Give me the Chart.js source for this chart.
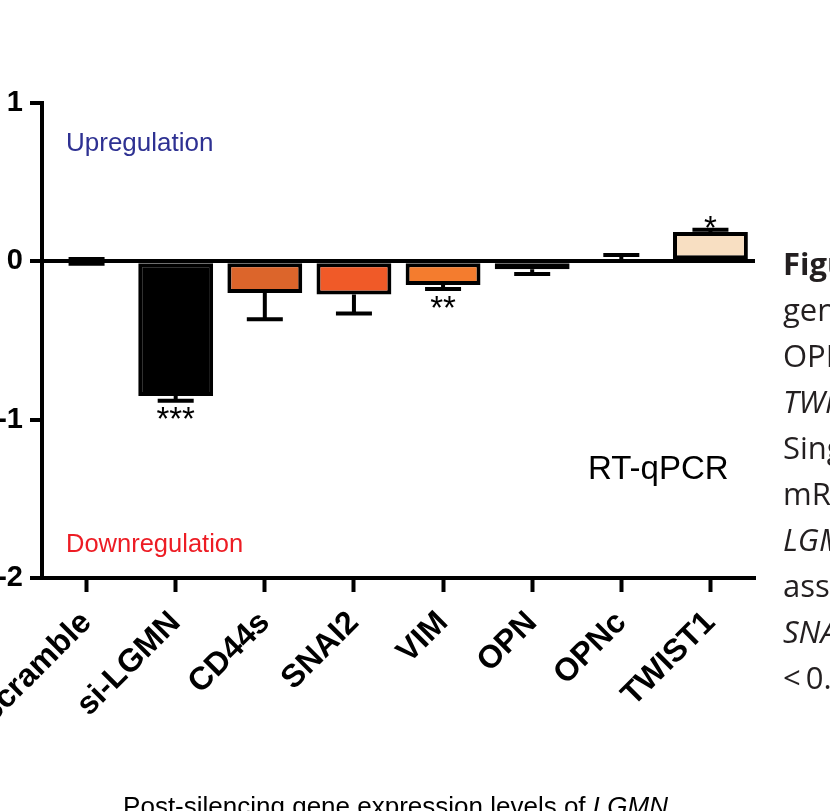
<!DOCTYPE html>
<html>
<head>
<meta charset="utf-8">
<title>Post-silencing gene expression levels of LGMN</title>
<script src="https://cdn.jsdelivr.net/npm/chart.js@4.4.0/dist/chart.umd.min.js"></script>
<style>
  html, body { margin: 0; padding: 0; background: #fff; overflow: hidden; }
  #wrap { position: relative; width: 830px; height: 811px; overflow: hidden; }
  #chart { position: absolute; left: 0; top: 0; }
  .caption {
    position: absolute; left: 783px; top: 240px;
    font-family: "Open Sans", sans-serif; font-size: 31px; line-height: 46px;
    color: #231f20; white-space: nowrap;
  }
</style>
</head>
<body>
<div id="wrap">
  <canvas id="chart" width="830" height="811"></canvas>
  <div class="caption">
    <div><b>Figure 5.</b></div>
    <div>gene</div>
    <div>OPN</div>
    <div><i>TWIST1</i></div>
    <div>Single</div>
    <div>mRNA</div>
    <div><i>LGMN</i></div>
    <div>assessed</div>
    <div><i>SNAI2</i></div>
    <div>&lt;&thinsp;0.05</div>
  </div>
</div>
<script>
// valeurs (log fold change)
const categories = ['Scramble', 'si-LGMN', 'CD44s', 'SNAI2', 'VIM', 'OPN', 'OPNc', 'TWIST1'];
const foldChange = [0, -0.85, -0.20, -0.21, -0.15, -0.05, 0.005, 0.185];
const errorSize = [0.015, 0.03, 0.165, 0.12, 0.025, 0.03, 0.035, 0.015];
const significance = ['', '***', '', '', '**', '', '', '*'];
const barColors = ['#000000', '#000000', '#DC652B', '#F05A28', '#F47C2E', '#F7A13A', '#FFFFFF', '#F8DFC2'];
const yTicks = [1, 0, -1, -2];

const FONT = 'Arial, "Liberation Sans", sans-serif';

// barres d'erreur + étoiles
const errorBarPlugin = {
    id: 'errorBars',
    afterDatasetsDraw(chart) {
        const ctx = chart.ctx;
        const x = chart.scales.x;
        const y = chart.scales.y;
        ctx.save();
        ctx.strokeStyle = '#000';
        ctx.lineWidth = 4;
        ctx.fillStyle = '#000';
        ctx.font = '33px ' + FONT;
        ctx.textAlign = 'center';
        ctx.textBaseline = 'top';
        foldChange.forEach((v, i) => {
            const cx = x.getPixelForValue(i);
            const dirs = v === 0 ? [1, -1] : [Math.sign(v)];
            let yEnd = 0;
            dirs.forEach(d => {
                const y0 = y.getPixelForValue(v);
                const y1 = y.getPixelForValue(v + d * errorSize[i]);
                ctx.beginPath();
                ctx.moveTo(cx, y0);
                ctx.lineTo(cx, y1);
                ctx.moveTo(cx - 18, y1);
                ctx.lineTo(cx + 18, y1);
                ctx.stroke();
                yEnd = y1;
            });
            if (significance[i]) {
                const ty = v < 0 ? yEnd + 4 : yEnd - 16;
                ctx.fillText(significance[i], cx, ty);
            }
        });
        ctx.restore();
    }
};

// textes dans le graphique
const labelsPlugin = {
    id: 'chartTexts',
    afterDraw(chart) {
        const ctx = chart.ctx;
        const area = chart.chartArea;
        ctx.save();
        ctx.textBaseline = 'alphabetic';
        ctx.textAlign = 'left';

        ctx.font = '26px ' + FONT;
        ctx.fillStyle = '#2E3192';
        ctx.fillText('Upregulation', 66, 151);

        ctx.font = '25.5px ' + FONT;
        ctx.fillStyle = '#ED1C24';
        ctx.fillText('Downregulation', 66, 552);

        ctx.font = '33px ' + FONT;
        ctx.fillStyle = '#000';
        ctx.fillText('RT-qPCR', 588, 479);

        // titre de l'axe x (LGMN en italique)
        const part1 = 'Post-silencing gene expression levels of ';
        const part2 = 'LGMN';
        ctx.font = '26px ' + FONT;
        const w1 = ctx.measureText(part1).width;
        ctx.font = 'italic 26px ' + FONT;
        const w2 = ctx.measureText(part2).width;
        const startX = (area.left + area.right) / 2 - (w1 + w2) / 2 - 3;
        ctx.font = '26px ' + FONT;
        ctx.fillText(part1, startX, 815);
        ctx.font = 'italic 26px ' + FONT;
        ctx.fillText(part2, startX + w1, 815);
        ctx.restore();
    }
};

document.addEventListener('DOMContentLoaded', function() {
    const ctx = document.getElementById('chart');

    new Chart(ctx.getContext('2d'), {
        type: 'bar',
        data: {
            labels: categories,
            datasets: [{
                data: foldChange,
                backgroundColor: barColors,
                borderColor: '#000',
                borderWidth: 4,
                borderSkipped: false,
                barPercentage: 0.84,
                categoryPercentage: 1
            }]
        },
        options: {
            responsive: false,
            animation: false,
            layout: { padding: { top: 103, right: 75, left: 0, bottom: 0 } },
            plugins: {
                legend: { display: false },
                tooltip: { enabled: false }
            },
            scales: {
                x: {
                    offset: true,
                    grid: {
                        offset: false,
                        drawOnChartArea: false,
                        tickLength: 14,
                        tickWidth: 4,
                        tickColor: '#000'
                    },
                    border: { color: '#000', width: 4 },
                    ticks: {
                        color: '#000',
                        font: { family: FONT, size: 32, weight: 'bold' },
                        minRotation: 45,
                        maxRotation: 45,
                        autoSkip: false,
                        padding: 12
                    },
                    afterFit(scale) {
                        scale.height = 233;
                        scale.paddingLeft = 0;
                        scale.paddingRight = 0;
                    }
                },
                y: {
                    min: Math.min(...yTicks),
                    max: Math.max(...yTicks),
                    ticks: {
                        stepSize: 1,
                        color: '#000',
                        font: { family: FONT, size: 29, weight: 'bold' },
                        padding: 7
                    },
                    grid: {
                        color: c => (c.tick && c.tick.value === 0) ? '#000' : 'rgba(0,0,0,0)',
                        lineWidth: 4,
                        tickLength: 12,
                        tickWidth: 4,
                        tickColor: '#000'
                    },
                    border: { color: '#000', width: 4 },
                    afterFit(scale) {
                        scale.width = 42;
                        scale.paddingTop = 0;
                        scale.paddingBottom = 0;
                    }
                }
            }
        },
        plugins: [errorBarPlugin, labelsPlugin]
    });
});
</script>
</body>
</html>
